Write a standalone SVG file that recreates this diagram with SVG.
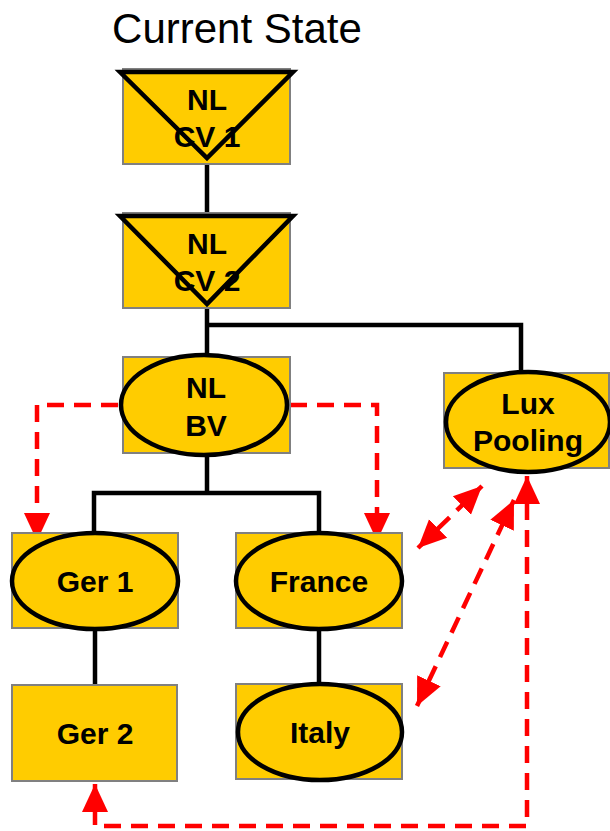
<svg xmlns="http://www.w3.org/2000/svg" width="610" height="831" viewBox="0 0 610 831">
<style>
.box{fill:#FFCC00;stroke:#808080;stroke-width:2}
.shape{fill:#FFCC00;stroke:#000;stroke-width:4.5}
.tri{fill:none;stroke:#000;stroke-width:4.5;stroke-linejoin:miter}
.lbl{font-family:"Liberation Sans",Arial,sans-serif;font-weight:bold;font-size:30px;text-anchor:middle;fill:#000}
.line{fill:none;stroke:#000;stroke-width:4.5}
.dash{fill:none;stroke:#FF0000;stroke-width:4.5;stroke-dasharray:17,10}
</style>
<defs>
<marker id="ah" markerUnits="userSpaceOnUse" markerWidth="30" markerHeight="28" viewBox="0 0 30 28" refX="28" refY="14" orient="auto-start-reverse">
<path d="M0,1 L28,14 L0,27 Z" fill="#FF0000"/>
</marker>
</defs>
<rect width="610" height="831" fill="#fff"/>
<text x="237" y="43" font-family="Liberation Sans,Arial,sans-serif" font-size="42" text-anchor="middle" fill="#000">Current State</text>
<g id="connectors">
<path class="line" d="M207,158 V215"/>
<path class="line" d="M207,306 V357 M207,325 H521 V373"/>
<path class="line" d="M207,455 V493 M94,531 V493 H319 V533"/>
<path class="line" d="M95,629 V686"/>
<path class="line" d="M319,629 V686"/>
<path class="dash" d="M118,405 H37 V541" marker-end="url(#ah)"/>
<path class="dash" d="M290,405 H377 V541" marker-end="url(#ah)"/>
<path class="dash" d="M527,476 V826 H95 V784" marker-start="url(#ah)" marker-end="url(#ah)"/>
<path class="dash" d="M418,548 L482,486" marker-start="url(#ah)" marker-end="url(#ah)"/>
<path class="dash" d="M417,706 L514,500" marker-start="url(#ah)" marker-end="url(#ah)"/>
</g>
<g id="nl-cv1">
<rect class="box" x="123" y="69" width="167" height="95"/>
<polygon class="tri" points="120,72 293,72 207,158"/>
<text class="lbl" x="207" y="110">NL</text>
<text class="lbl" x="207" y="147">CV 1</text>
</g>
<g id="nl-cv2">
<rect class="box" x="123" y="213" width="167" height="95"/>
<polygon class="tri" points="120,216 293,216 207,304"/>
<text class="lbl" x="207" y="254">NL</text>
<text class="lbl" x="207" y="291">CV 2</text>
</g>
<g id="nl-bv">
<rect class="box" x="123" y="357" width="167" height="96"/>
<ellipse class="shape" cx="204" cy="405" rx="83" ry="50"/>
<text class="lbl" x="206" y="398">NL</text>
<text class="lbl" x="206" y="436">BV</text>
</g>
<g id="lux-pooling">
<rect class="box" x="444" y="373" width="165" height="95"/>
<ellipse class="shape" cx="528" cy="422" rx="82" ry="50"/>
<text class="lbl" x="528" y="414">Lux</text>
<text class="lbl" x="528" y="451">Pooling</text>
</g>
<g id="ger1">
<rect class="box" x="12" y="533" width="166" height="95"/>
<ellipse class="shape" cx="95" cy="581" rx="83" ry="48"/>
<text class="lbl" x="95" y="592">Ger 1</text>
</g>
<g id="france">
<rect class="box" x="236" y="533" width="166" height="95"/>
<ellipse class="shape" cx="319" cy="581" rx="83" ry="48"/>
<text class="lbl" x="319" y="592">France</text>
</g>
<g id="ger2">
<rect class="box" x="12" y="685" width="165" height="96"/>
<text class="lbl" x="95" y="744">Ger 2</text>
</g>
<g id="italy">
<rect class="box" x="236" y="684" width="166" height="95"/>
<ellipse class="shape" cx="320" cy="732" rx="82" ry="48"/>
<text class="lbl" x="320" y="743">Italy</text>
</g>
</svg>
